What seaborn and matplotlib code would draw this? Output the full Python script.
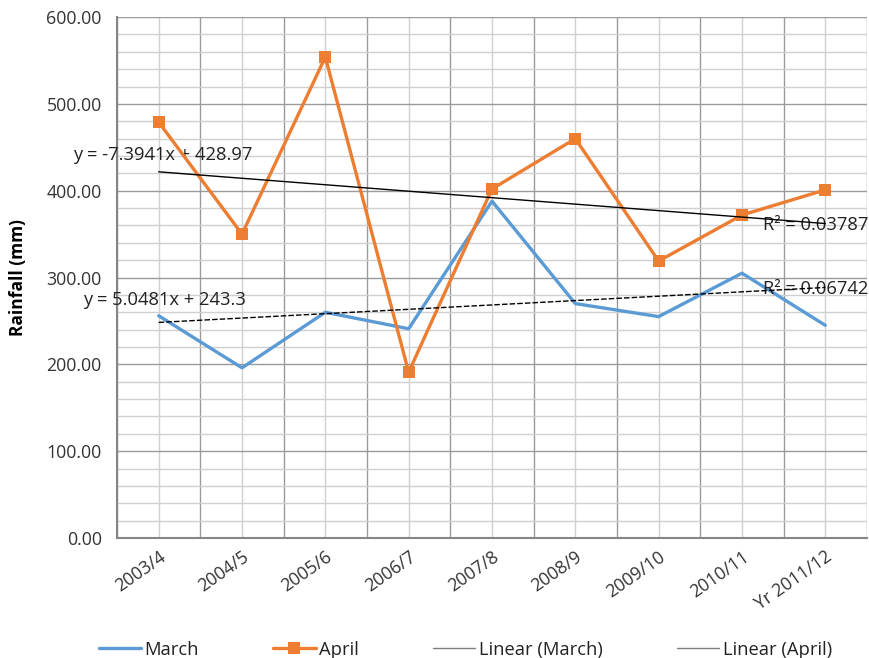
import numpy as np
import pandas as pd
import matplotlib
matplotlib.use("Agg")
import matplotlib.pyplot as plt
from matplotlib.lines import Line2D
from matplotlib.ticker import MultipleLocator, FixedLocator
import seaborn as sns

seasons = ["2003/4", "2004/5", "2005/6", "2006/7", "2007/8",
           "2008/9", "2009/10", "2010/11", "Yr 2011/12"]
march = [256, 196, 260, 241, 388, 270, 255, 305, 245]
april = [479, 350, 554, 191, 402, 460, 319, 372, 401]

BLUE = "#5B9BD5"
ORANGE = "#ED7D31"
TXT = "#333333"

sns.set_style("white")
plt.rcParams["font.family"] = ["Open Sans", "DejaVu Sans"]

pos = np.arange(len(seasons))
df = pd.DataFrame({"pos": pos, "March": march, "April": april})

fig = plt.figure(figsize=(8.7, 6.58), dpi=100)
ax = fig.add_axes([0.1345, 0.1824, 0.862, 0.7916])

sns.lineplot(data=df, x="pos", y="March", ax=ax, color=BLUE, lw=2.4, zorder=3)
sns.lineplot(data=df, x="pos", y="April", ax=ax, color=ORANGE, lw=2.4,
             marker="s", markersize=9, markeredgewidth=0, zorder=4)

# linear trend lines (Excel uses x = 1..n)
xn = pos + 1
for vals, ls in [(march, (0, (4, 1.5))), (april, "-")]:
    k, b = np.polyfit(xn, vals, 1)
    sns.lineplot(x=pos, y=k * xn + b, ax=ax, color="black", lw=1.0,
                 linestyle=ls, zorder=5)

fs = 13.2
ax.text(-1.027, 441, "y = -7.3941x + 428.97", fontsize=fs, color="#222222",
        ha="left", va="center")
ax.text(-0.907, 274, "y = 5.0481x + 243.3", fontsize=fs, color="#222222",
        ha="left", va="center")
ax.text(7.25, 360, "R² = 0.03787", fontsize=fs, color="#222222",
        ha="left", va="center")
ax.text(7.25, 287, "R² = 0.06742", fontsize=fs, color="#222222",
        ha="left", va="center")

ax.set_xlim(-0.5, len(seasons) - 0.5)
ax.set_ylim(0, 600)
ax.set_xticks(pos)
ax.set_xticklabels(seasons, rotation=35, ha="right", rotation_mode="anchor")
ax.xaxis.set_minor_locator(FixedLocator(np.arange(-0.5, len(seasons), 1)))
ax.yaxis.set_major_locator(MultipleLocator(100))
ax.yaxis.set_minor_locator(MultipleLocator(20))
ax.yaxis.set_major_formatter(matplotlib.ticker.FormatStrFormatter("%.2f"))

ax.grid(which="major", axis="y", color="#9a9a9a", lw=1.0)
ax.grid(which="minor", axis="y", color="#d0d0d0", lw=1.0)
ax.grid(which="major", axis="x", color="#d0d0d0", lw=1.0)
ax.grid(which="minor", axis="x", color="#9a9a9a", lw=1.0)
ax.set_axisbelow(True)

for s in ["top", "right"]:
    ax.spines[s].set_visible(False)
for s in ["left", "bottom"]:
    ax.spines[s].set_color("#868686")
    ax.spines[s].set_linewidth(1.5)

ax.tick_params(axis="both", which="major", labelsize=12.8, labelcolor=TXT,
               color="#868686", length=5, width=1)
ax.tick_params(axis="both", which="minor", length=0)
ax.tick_params(axis="x", pad=2)
ax.tick_params(axis="y", pad=6)

ax.set_xlabel("")
ax.set_ylabel("Rainfall (mm)", fontsize=12.5, fontweight="bold", color="black",
              labelpad=14)

handles = [
    Line2D([], [], color=BLUE, lw=2.4),
    Line2D([], [], color=ORANGE, lw=2.4, marker="s", markersize=9,
           markeredgewidth=0),
    Line2D([], [], color="#7f7f7f", lw=1.0),
    Line2D([], [], color="#7f7f7f", lw=1.0),
]
labels = ["March", "April", "Linear (March)", "Linear (April)"]
fig.legend(handles, labels, loc="lower center", bbox_to_anchor=(0.535, -0.026),
           ncol=4, frameon=False, fontsize=13.2, handlelength=2.3,
           handletextpad=0.2, columnspacing=4.05, labelcolor="#222222")

fig.savefig("out.png", dpi=100)
